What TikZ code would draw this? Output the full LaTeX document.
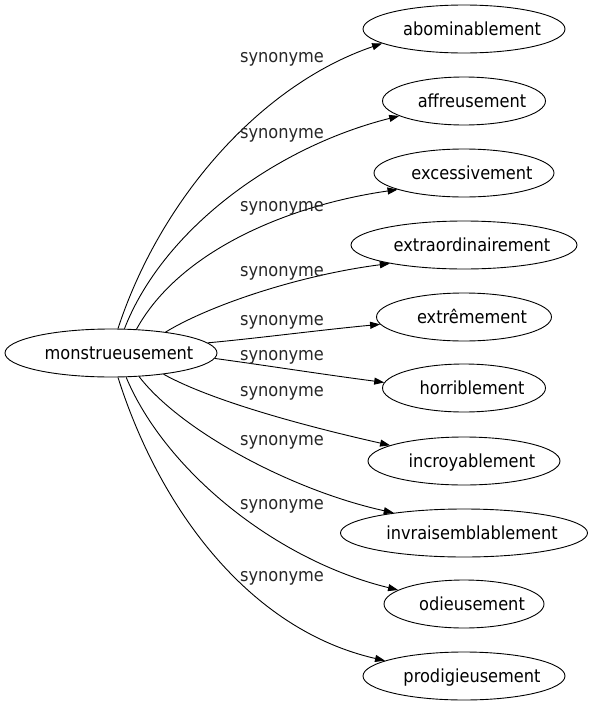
\documentclass[tikz,border=0pt]{standalone}
\usepackage{fontspec}
\setmainfont{DejaVu Sans}[FakeStretch=0.9]
\usetikzlibrary{shapes.geometric,arrows.meta}
\newcommand{\lbltxt}[1]{\makebox[0pt]{\hspace*{16pt}#1}}
\begin{document}
\begin{tikzpicture}[x=1pt,y=-1pt,
  every node/.style={font=\fontsize{18}{20}\selectfont},
  term/.style={draw, ellipse, line width=0.9pt, inner sep=0pt, minimum height=48pt, text height=12pt, text depth=0pt},
  rel/.style={inner sep=0pt, text=black!85},
  link/.style={draw, line width=0.9pt, -{Triangle[length=10pt,width=7pt]}}]
\useasboundingbox (0,0) rectangle (592,707);
\node[term, minimum width=212pt] (c) at (111,353) {\lbltxt{monstrueusement}};
\node[term, minimum width=202pt] (n1) at (464,29) {\lbltxt{abominablement}};
\node[term, minimum width=163pt] (n2) at (464,101) {\lbltxt{affreusement}};
\node[term, minimum width=180pt] (n3) at (464,173) {\lbltxt{excessivement}};
\node[term, minimum width=226pt] (n4) at (464,245) {\lbltxt{extraordinairement}};
\node[term, minimum width=175pt] (n5) at (464,317) {\lbltxt{extrêmement}};
\node[term, minimum width=163pt] (n6) at (464,388) {\lbltxt{horriblement}};
\node[term, minimum width=192pt] (n7) at (464,461) {\lbltxt{incroyablement}};
\node[term, minimum width=247pt] (n8) at (464,533) {\lbltxt{invraisemblablement}};
\node[term, minimum width=160pt] (n9) at (464,604) {\lbltxt{odieusement}};
\node[term, minimum width=202pt] (n10) at (464,676) {\lbltxt{prodigieusement}};
\draw[link] (c.74) .. controls (160,200) and (260,85) .. (n1.190);
\draw[link] (c.61) .. controls (162,232) and (272,148) .. (n2.193);
\draw[link] (c.43) .. controls (180,250) and (290,205) .. (n3.194);
\draw[link] (c.21) .. controls (210,305) and (300,275) .. (n4.194);
\draw[link] (c.6) .. controls (260,338) and (320,330) .. (n5.185);
\draw[link] (c.-3) .. controls (270,366) and (320,374) .. (n6.176);
\draw[link] (c.-22) .. controls (210,400) and (300,425) .. (n7.168);
\draw[link] (c.-40) .. controls (180,430) and (290,490) .. (n8.164);
\draw[link] (c.-58) .. controls (165,470) and (275,560) .. (n9.168);
\draw[link] (c.-74) .. controls (160,510) and (250,630) .. (n10.169);
\node[rel] (l1) at (282,59) {synonyme};
\node[rel] (l2) at (282,135) {synonyme};
\node[rel] (l3) at (282,208) {synonyme};
\node[rel] (l4) at (282,273) {synonyme};
\node[rel] (l5) at (282,322) {synonyme};
\node[rel] (l6) at (282,357) {synonyme};
\node[rel] (l7) at (282,393) {synonyme};
\node[rel] (l8) at (282,442) {synonyme};
\node[rel] (l9) at (282,506) {synonyme};
\node[rel] (l10) at (282,578) {synonyme};
\end{tikzpicture}
\end{document}
